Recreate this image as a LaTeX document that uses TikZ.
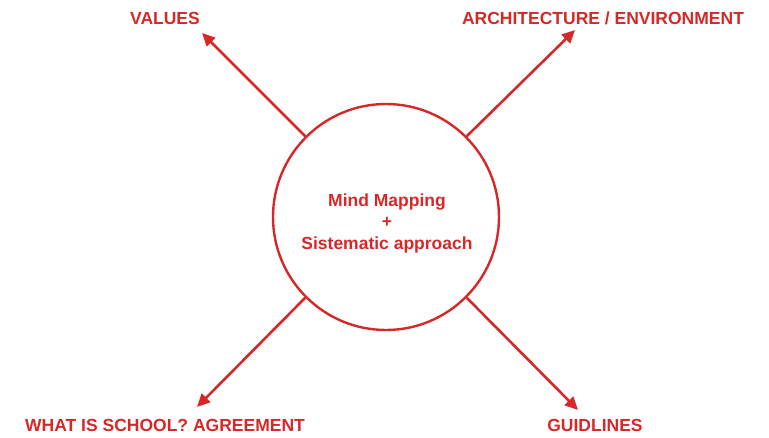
\documentclass[tikz,border=0pt]{standalone}
\usepackage{fontspec}
\setmainfont{Liberation Sans}
\usetikzlibrary{arrows.meta}
\definecolor{mapred}{RGB}{214,40,40}

\begin{document}
\begin{tikzpicture}[x=1pt,y=-1pt,
    heading/.style={text=mapred,font=\bfseries\fontsize{17.5}{21.5}\selectfont,inner sep=0pt},
    branch/.style={draw=mapred,line width=2.6pt,-{Triangle[length=13pt,width=12pt]}}]
  \useasboundingbox (0,0) rectangle (769,437);
  \node[circle,draw=mapred,line width=2.4pt,minimum size=226pt] (hub) at (386,217) {};
  \node[heading,align=center] (topic) at (387,223) {Mind Mapping\\+\\Sistematic approach};
  \draw
    (165,24.5) node[heading,anchor=base] (values){VALUES}
    (603,24.5) node[heading,anchor=base] (arch){ARCHITECTURE / ENVIRONMENT}
    (165,431.5) node[heading,anchor=base] (school){WHAT IS SCHOOL? AGREEMENT}
    (595,431.5) node[heading,anchor=base] (guide){GUIDLINES};
  \coordinate (values tip) at (202,33);
  \coordinate (arch tip) at (575,30);
  \coordinate (school tip) at (197,407);
  \coordinate (guide tip) at (578,410);
  \begin{scope}[branch]
    \draw (hub.135) to (values tip);
    \draw (hub.45) to (arch tip);
    \draw (hub.225) to (school tip);
    \draw (hub.-45) to (guide tip);
  \end{scope}
\end{tikzpicture}
\end{document}
